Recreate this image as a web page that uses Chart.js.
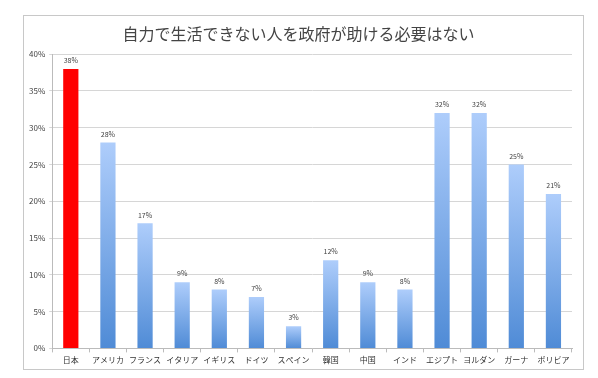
<!DOCTYPE html>
<html>
<head>
<meta charset="utf-8">
<script src="https://cdn.jsdelivr.net/npm/chart.js@4"></script>
<style>
  html, body { margin: 0; padding: 0; background: #fff; }
  #wrap { width: 598px; height: 378px; }
</style>
</head>
<body>
<div id="wrap"><canvas id="chart" width="598" height="378"></canvas></div>
<script>
// data
const countries = ['日本', 'アメリカ', 'フランス', 'イタリア', 'イギリス', 'ドイツ', 'スペイン',
                   '韓国', '中国', 'インド', 'エジプト', 'ヨルダン', 'ガーナ', 'ボリビア'];
const percents = [38, 28, 17, 9, 8, 7, 3, 12, 9, 8, 32, 32, 25, 21];
const yTicks = [0, 5, 10, 15, 20, 25, 30, 35, 40];
const chartTitle = '自力で生活できない人を政府が助ける必要はない';

const JP = "'Noto Sans CJK JP', 'Noto Sans', sans-serif";

// blue bars fade light->dark top to bottom, Japan is plain red
function barColor(c) {
    if (c.dataIndex === 0) return '#ff0000';
    const chart = c.chart;
    const y = chart.scales.y;
    if (!y || !chart.chartArea) return '#6fa3e8';
    const top = y.getPixelForValue(percents[c.dataIndex]);
    const bottom = y.getPixelForValue(0);
    const g = chart.ctx.createLinearGradient(0, top, 0, bottom);
    g.addColorStop(0, '#aecdfb');
    g.addColorStop(1, '#4f8bd6');
    return g;
}

// frame around the whole thing
const framePlugin = {
    id: 'frame',
    beforeDraw(chart) {
        const ctx = chart.ctx;
        ctx.save();
        ctx.fillStyle = '#fff';
        ctx.fillRect(0, 0, chart.width, chart.height);
        ctx.strokeStyle = '#c8c8c8';
        ctx.lineWidth = 1;
        ctx.strokeRect(23.5, 15.5, 560, 354);
        ctx.restore();
    }
};

// % labels above the bars
const valueLabels = {
    id: 'valueLabels',
    afterDatasetsDraw(chart) {
        const ctx = chart.ctx;
        const meta = chart.getDatasetMeta(0);
        ctx.save();
        ctx.font = '7px ' + JP;
        ctx.fillStyle = '#444';
        ctx.textAlign = 'center';
        ctx.textBaseline = 'bottom';
        meta.data.forEach((bar, i) => {
            ctx.fillText(percents[i] + '%', bar.x, bar.y - 5);
        });
        ctx.restore();
    }
};

new Chart(document.getElementById('chart'), {
    type: 'bar',
    data: {
        labels: countries,
        datasets: [{
            data: percents,
            backgroundColor: barColor,
            borderWidth: 0,
            barPercentage: 0.82,
            categoryPercentage: 0.5
        }]
    },
    options: {
        responsive: false,
        animation: false,
        layout: { padding: { top: 24, left: 25, right: 26, bottom: 10 } },
        plugins: {
            legend: { display: false },
            tooltip: { enabled: false },
            title: {
                display: true,
                text: chartTitle,
                color: '#444',
                font: { family: JP, size: 16, weight: 'normal' },
                padding: { top: 0, bottom: 11 }
            }
        },
        scales: {
            x: {
                grid: {
                    display: true,
                    offset: true,
                    drawOnChartArea: false,
                    drawTicks: true,
                    tickLength: 4,
                    color: '#bbb'
                },
                border: { color: '#bbb' },
                ticks: {
                    color: '#333',
                    font: { family: JP, size: 8 },
                    maxRotation: 0,
                    autoSkip: false,
                    padding: 3
                }
            },
            y: {
                min: 0,
                max: 40,
                afterBuildTicks(axis) {
                    axis.ticks = yTicks.map(v => ({ value: v }));
                },
                grid: { color: '#d6d6d6', tickLength: 3, drawTicks: true },
                border: { color: '#bbb' },
                ticks: {
                    color: '#444',
                    font: { family: JP, size: 8 },
                    padding: 4,
                    callback: v => v + '%'
                }
            }
        }
    },
    plugins: [framePlugin, valueLabels]
});
</script>
</body>
</html>
